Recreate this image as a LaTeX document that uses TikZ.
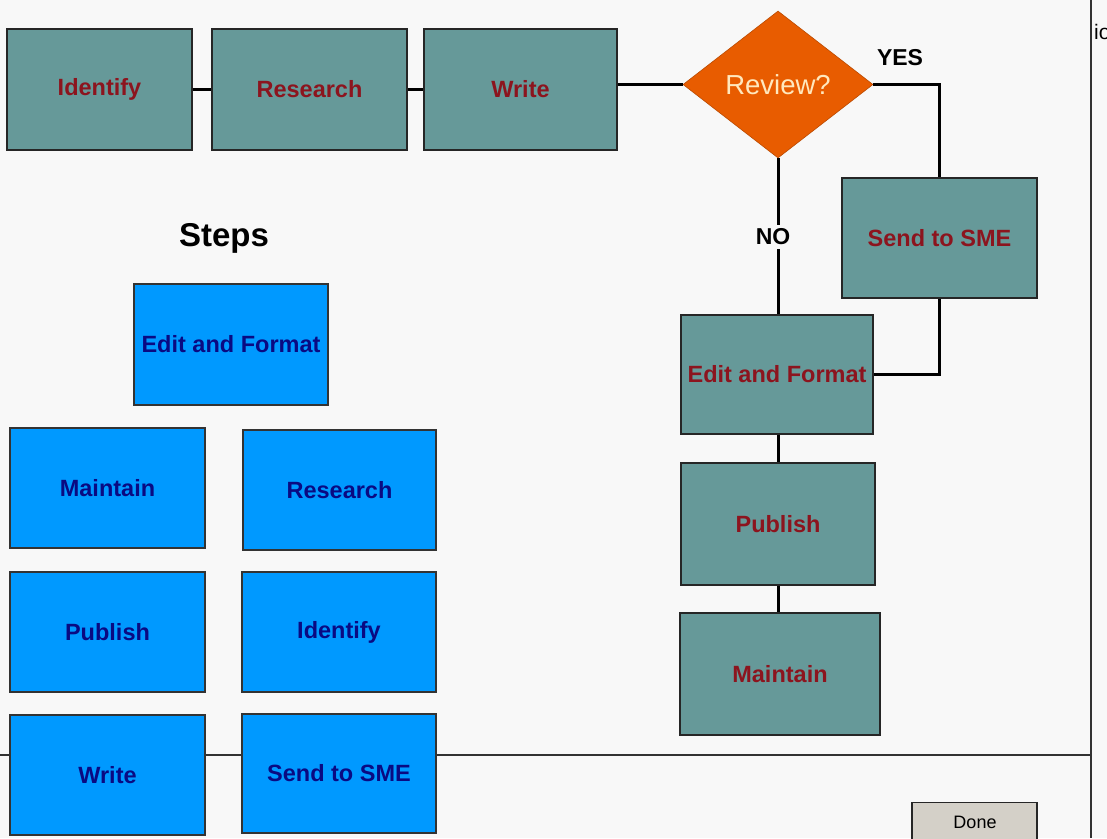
\documentclass[tikz,border=0pt]{standalone}
\usepackage{fontspec}
\setmainfont{Liberation Sans}
\usetikzlibrary{shapes.geometric}
\definecolor{bg}{RGB}{248,248,248}
\definecolor{teal0}{RGB}{102,153,153}
\definecolor{maroon0}{RGB}{140,20,30}
\definecolor{blue0}{RGB}{0,153,255}
\definecolor{navy0}{RGB}{10,10,130}
\definecolor{orange0}{RGB}{232,92,0}
\definecolor{cream0}{RGB}{255,232,190}
\definecolor{btn}{RGB}{212,208,200}
\definecolor{frame0}{RGB}{50,50,50}
\begin{document}
\begin{tikzpicture}[x=1pt,y=-1pt,
  boxtext/.style={font=\fontsize{23.5}{27}\selectfont\bfseries},
  flowbox/.style={rectangle,fill=teal0,draw=black!85,line width=1.4pt,text=maroon0,boxtext,inner sep=0pt},
  stepbox/.style={rectangle,fill=blue0,draw=black!80,line width=1.2pt,text=navy0,boxtext,inner sep=0pt,minimum width=195,minimum height=120},
  conn/.style={draw=black,line width=3pt},
  lbl/.style={font=\fontsize{23}{26}\selectfont\bfseries,text=black,inner sep=0pt},
  framel/.style={draw=frame0,line width=1.4pt}]
\useasboundingbox (0,0) rectangle (1107,838);
\clip (0,0) rectangle (1107,838);
\fill[bg] (0,0) rectangle (1107,838);
% window frame lines
\draw[framel] (0,755) -- (1091,755);
\draw[framel] (1091,0) -- (1091,838);
\node[anchor=base west,inner sep=0pt,font=\fontsize{21}{24}\selectfont] (io) at (1094,39) {io};
% top flow row
\node[flowbox,minimum width=185,minimum height=121] (identify) at (99.5,89.5) {Identify};
\node[flowbox,minimum width=195,minimum height=121] (research) at (309.5,89.5) {Research};
\node[flowbox,minimum width=193,minimum height=121] (write) at (520.5,89.5) {Write};
\node[diamond,fill=orange0,draw=orange0!80!black,line width=0.6pt,inner sep=0pt,minimum width=190,minimum height=147,text=cream0,font=\fontsize{27.5}{30}\selectfont] (review) at (778,84.5) {Review?};
\node[flowbox,minimum width=195,minimum height=120] (sme) at (939.5,238) {Send to SME};
\node[flowbox,minimum width=192,minimum height=119] (editR) at (777,374.5) {Edit and Format};
\node[flowbox,minimum width=194,minimum height=122] (publishR) at (778,524) {Publish};
\node[flowbox,minimum width=200,minimum height=122] (maintainR) at (780,674) {Maintain};
% connectors
\draw[conn] (identify.east) -- (research.west);
\draw[conn] (research.east) -- (write.west);
\draw[conn] (review.west -| write.east) -- (review.west);
\draw[conn] (review.east) -| (sme.north);
\draw[conn] (review.south) -- (review.south |- editR.north);
\draw[conn] (sme.south) |- (editR.east);
\draw[conn] (editR.south -| review.south) -- (publishR.north -| review.south);
\draw[conn] (publishR.south -| review.south) -- (maintainR.north -| review.south);
\node[lbl] (yes) at (900,58) {YES};
\node[lbl,fill=bg,inner sep=4pt] (no) at (773,237) {NO};
% steps palette
\node[font=\fontsize{33}{38}\selectfont\bfseries,inner sep=0pt] (steps) at (224,238) {Steps};
\node[stepbox,minimum width=194,minimum height=121] (editL) at (231,344.5) {Edit and Format};
\node[stepbox] (maintainL) at (107.5,488) {Maintain};
\node[stepbox,minimum width=193] (researchL) at (339.5,490) {Research};
\node[stepbox] (publishL) at (107.5,632) {Publish};
\node[stepbox,minimum width=194] (identifyL) at (339,632) {Identify};
\node[stepbox] (writeL) at (107.5,775) {Write};
\node[stepbox,minimum width=194,minimum height=119] (sendL) at (339,773.5) {Send to SME};
% done button
\node[rectangle,fill=btn,draw=black!85,line width=1.4pt,minimum width=125,minimum height=46,inner sep=0pt,anchor=north] (done) at (974.5,802) {};
\node[inner sep=0pt,font=\fontsize{18}{20}\selectfont] (donetxt) at (975,822) {Done};
\end{tikzpicture}
\end{document}
